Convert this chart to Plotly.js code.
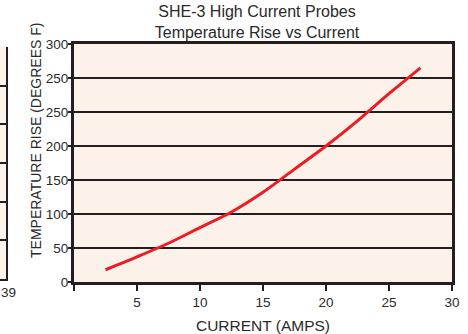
<!DOCTYPE html>
<html>
<head>
<meta charset="utf-8">
<script src="https://cdn.plot.ly/plotly-3.0.1.min.js"></script>
<style>html,body{margin:0;padding:0;background:#fff;}#chart{width:468px;height:334px;}</style>
</head>
<body>
<div id="chart"></div>
<script>
// Data (y in axis units of the drawn scale)
var current = [2.5, 5, 7.5, 10, 12.5, 15, 17.5, 20, 22.5, 25, 27.5];
var tempRise = [18, 37, 57, 80, 103, 132, 166, 200, 237, 277, 315];

var xTickVals = [0, 5, 10, 15, 20, 25, 30];
var xTickText = ["", "5", "10", "15", "20", "25", "30"];
var yTickVals = [0, 50, 100, 150, 200, 250, 300, 350];
var yTickText = ["0", "50", "100", "150", "200", "250", "250", "300"];

// neighbouring chart fragment at the left edge
var fragGridVals = [0, 1, 2, 3, 4, 5, 6];
var fragLabel = "39";

var W = 468, H = 334;
var mL = 0, mR = 16, mT = 44, mB = 52;
var pw = W - mL - mR, ph = H - mT - mB;
function px2x(p){ return (p - mL) / pw; }
function py2y(p){ return (H - mB - p) / ph; }

var ink = '#231f20';
var txt = '#2a2a2a';
var font = 'Liberation Sans, Arial, Helvetica, sans-serif';

var traces = [{
  x: current, y: tempRise, type: 'scatter', mode: 'lines',
  line: {color: '#ed1c24', width: 3, shape: 'spline', smoothing: 0.8},
  xaxis: 'x', yaxis: 'y', hoverinfo: 'skip', showlegend: false
}, {
  x: [0, 1], y: [null, null], type: 'scatter', mode: 'lines',
  xaxis: 'x2', yaxis: 'y2', hoverinfo: 'skip', showlegend: false
}];

var layout = {
  width: W, height: H,
  margin: {l: mL, r: mR, t: mT, b: mB, pad: 0},
  paper_bgcolor: '#ffffff',
  plot_bgcolor: '#fdf2ea',
  font: {family: font, color: txt, size: 13.5},
  showlegend: false,
  title: {
    text: 'SHE-3 High Current Probes<br>Temperature Rise vs Current',
    font: {family: font, size: 16, color: txt},
    xref: 'paper', x: px2x(257), xanchor: 'center',
    yref: 'container', y: 1 - 17/H, yanchor: 'top'
  },
  xaxis: {
    domain: [px2x(74), 1],
    range: [0, 30], tickmode: 'array', tickvals: xTickVals, ticktext: xTickText,
    ticks: 'outside', ticklen: 6, tickwidth: 2, tickcolor: ink,
    showline: true, linecolor: ink, linewidth: 3, mirror: true,
    showgrid: false, zeroline: false,
    tickfont: {family: font, size: 13.5, color: txt},
    title: {text: 'CURRENT (AMPS)', font: {family: font, size: 15.5, color: txt}, standoff: 14},
    fixedrange: true
  },
  yaxis: {
    range: [0, 350], tickmode: 'array', tickvals: yTickVals, ticktext: yTickText,
    ticks: 'outside', ticklen: 3, tickwidth: 2, tickcolor: ink,
    ticklabelstandoff: -3,
    showline: true, linecolor: ink, linewidth: 3, mirror: true,
    showgrid: true, gridcolor: ink, gridwidth: 2, zeroline: false,
    tickfont: {family: font, size: 13.5, color: txt},
    fixedrange: true
  },
  xaxis2: {
    domain: [0, px2x(6)], anchor: 'y2', range: [-1, 1],
    showticklabels: false, ticks: '',
    showline: true, linecolor: ink, linewidth: 2,
    showgrid: false, zeroline: false,
    fixedrange: true
  },
  yaxis2: {
    domain: [py2y(279), py2y(47)], anchor: 'x2', side: 'right',
    range: [0, 6], tickmode: 'array', tickvals: fragGridVals,
    showticklabels: false, ticks: '',
    showline: true, linecolor: ink, linewidth: 2,
    showgrid: true, gridcolor: ink, gridwidth: 2, zeroline: false,
    fixedrange: true
  },
  annotations: [{
    text: 'TEMPERATURE RISE (DEGREES F)', textangle: -90,
    xref: 'paper', yref: 'paper', x: px2x(36), y: py2y(141),
    xanchor: 'center', yanchor: 'middle', showarrow: false,
    font: {family: font, size: 14, color: txt}
  }, {
    text: fragLabel,
    xref: 'paper', yref: 'paper', x: px2x(0), y: py2y(292),
    xanchor: 'left', yanchor: 'middle', showarrow: false, borderpad: 0,
    font: {family: font, size: 13.5, color: txt}
  }]
};

// fragment background
layout.shapes = [{
  type: 'rect', xref: 'x2 domain', yref: 'y2 domain', x0: 0, x1: 1, y0: 0, y1: 1,
  fillcolor: '#fdf2ea', line: {width: 0}, layer: 'below'
}];

Plotly.newPlot('chart', traces, layout, {displayModeBar: false, staticPlot: true});
</script>
</body>
</html>
